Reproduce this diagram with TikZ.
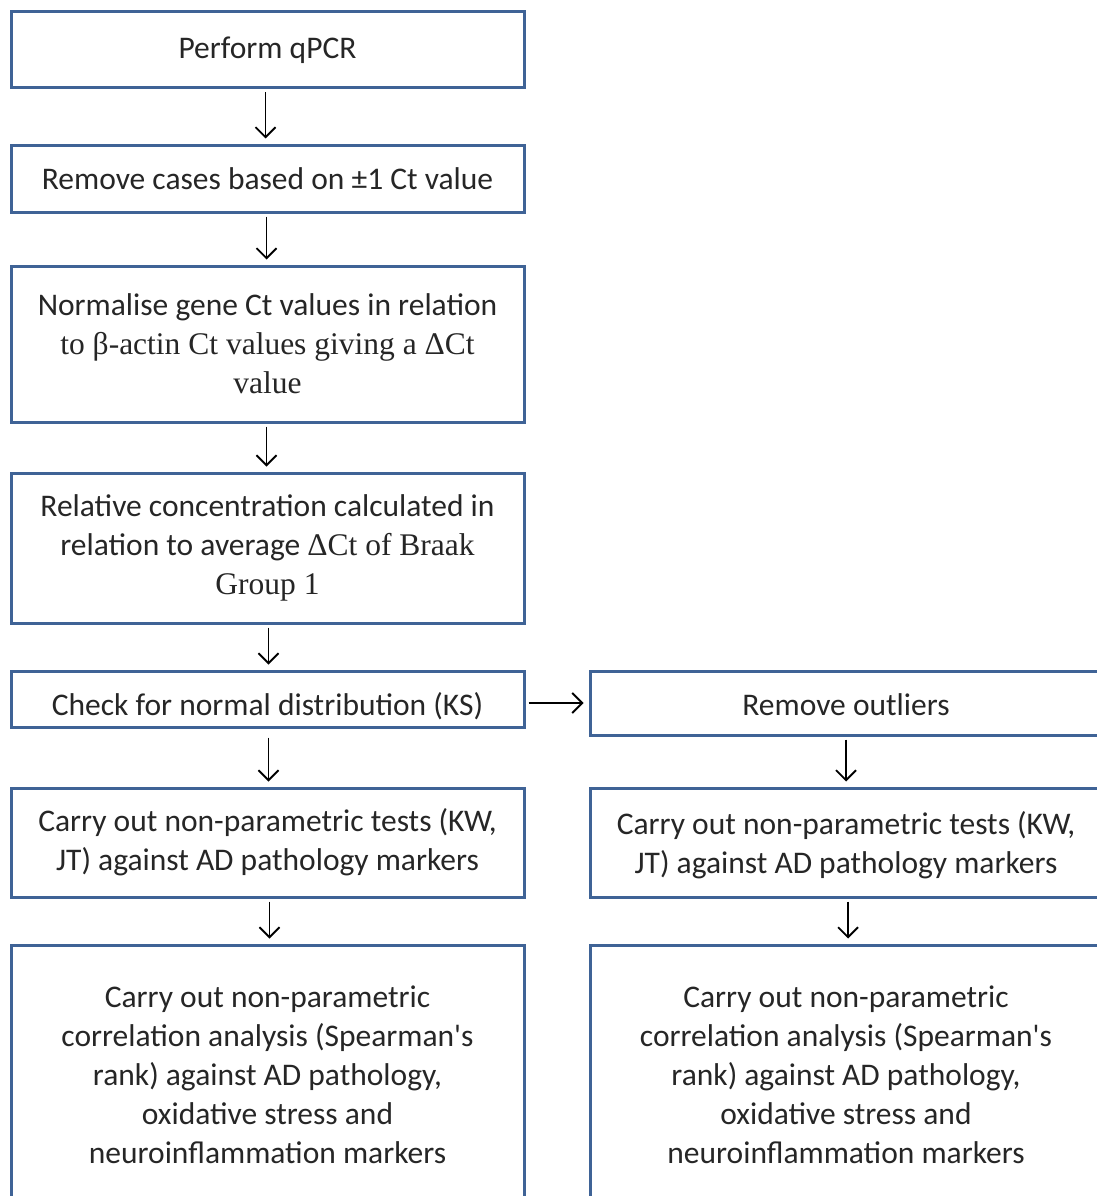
\documentclass[tikz,border=0pt]{standalone}
\usepackage{fontspec}
\setmainfont{Carlito}[Ligatures=TeXOff]
\newfontfamily\serifx{Liberation Serif}
\usetikzlibrary{arrows.meta}
\definecolor{boxblue}{HTML}{3F6396}
\begin{document}
\begin{tikzpicture}[x=1pt,y=-1pt,
  box/.style={draw=boxblue,line width=3pt,fill=white,inner sep=0pt,align=center,
    font=\fontsize{31.5}{39}\selectfont,text=black!85},
  lbl/.style={inner sep=0pt,align=center,font=\fontsize{31.5}{39}\selectfont,text=black!85},
  arr/.style={line width=1.8pt,-{Straight Barb[length=10pt,width=20pt,line width=1.8pt]},
    shorten <=3pt,shorten >=5pt}]
\useasboundingbox (0,0) rectangle (1097,1196);
\clip (0,0) rectangle (1097,1196);
% left column
\node[box,minimum width=513,minimum height=76] (b1) at (267.5,50) {Perform qPCR};
\node[box,minimum width=513,minimum height=67] (b2) at (267.5,178.5) {Remove cases based on ±1 Ct value};
\node[box,minimum width=513,minimum height=156] (b3) at (267.5,344) {Normalise gene Ct values in relation\\ {\serifx to β-actin Ct values giving a  ΔCt}\\ {\serifx value}};
\node[box,minimum width=513,minimum height=150] (b4) at (267.5,548) {Relative concentration calculated in\\ relation to average {\serifx ΔCt of Braak}\\ {\serifx Group 1}};
\node[box,minimum width=513,minimum height=56] (b5) at (267.5,699) {};
\node[lbl] (t5) at (267.5,706) {Check for normal distribution (KS)};
\node[box,minimum width=513,minimum height=109] (b6) at (267.5,842.5) {Carry out non-parametric tests (KW,\\ JT) against AD pathology markers};
\node[box,minimum width=513,minimum height=260] (b7) at (267.5,1075) {Carry out non-parametric\\ correlation analysis (Spearman's\\ rank) against AD pathology,\\ oxidative stress and\\ neuroinflammation markers};
% right column
\node[box,minimum width=514,minimum height=64] (r1) at (847,703) {};
\node[lbl] (t1) at (846,705) {Remove outliers};
\node[box,minimum width=514,minimum height=109] (r2) at (847,842.5) {};
\node[lbl] (t2) at (846,845) {Carry out non-parametric tests (KW,\\ JT) against AD pathology markers};
\node[box,minimum width=514,minimum height=260] (r3) at (847,1075) {};
\node[lbl] (t3) at (846,1075) {Carry out non-parametric\\ correlation analysis (Spearman's\\ rank) against AD pathology,\\ oxidative stress and\\ neuroinflammation markers};
% connectors
\draw[arr] ([xshift=-2pt]b1.south) -- ([xshift=-2pt]b2.north);
\draw[arr] ([xshift=-1pt]b2.south) -- ([xshift=-1pt]b3.north);
\draw[arr] ([xshift=-1pt]b3.south) -- ([xshift=-1pt]b4.north);
\draw[arr] ([xshift=1pt]b4.south) -- ([xshift=1pt]b5.north);
\draw[arr,shorten <=9pt] ([xshift=1pt]b5.south) -- ([xshift=1pt]b6.north);
\draw[arr] ([xshift=2pt]b6.south) -- ([xshift=2pt]b7.north);
\draw[arr] (b5.east |- r1.west) -- (r1.west);
\draw[arr] ([xshift=-1pt]r1.south) -- ([xshift=-1pt]r2.north);
\draw[arr] ([xshift=1pt]r2.south) -- ([xshift=1pt]r3.north);
\end{tikzpicture}
\end{document}
